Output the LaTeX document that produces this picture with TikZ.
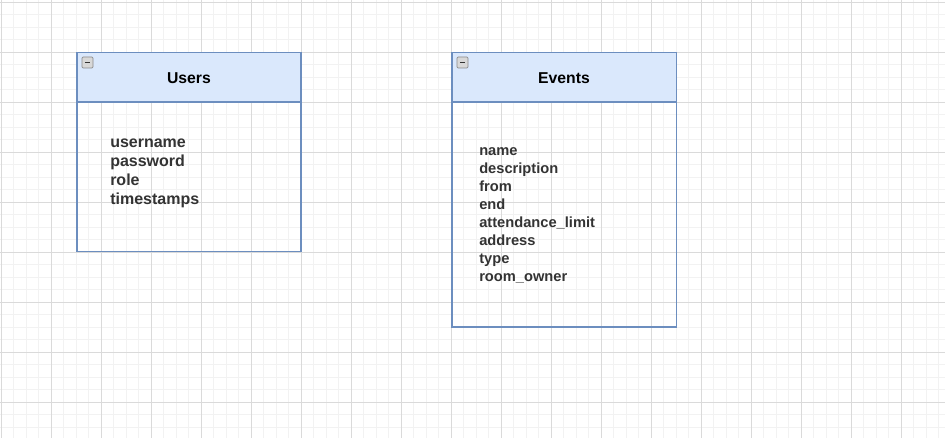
\documentclass[tikz,border=0pt]{standalone}
\usepackage{fontspec}
\setmainfont{Liberation Sans}
\definecolor{hdrfill}{HTML}{DAE8FC}
\definecolor{hdrline}{HTML}{6C8EBF}
\definecolor{gridminor}{HTML}{F2F2F2}
\definecolor{gridmajor}{HTML}{DADADA}
\definecolor{fieldtxt}{HTML}{333333}
\definecolor{iconfill}{HTML}{D8D8D8}
\definecolor{iconline}{HTML}{8A8A8A}
\tikzset{
  hdrbox/.style={draw=hdrline, fill=hdrfill, line width=0.8pt},
  bodybox/.style={draw=hdrline, line width=0.8pt},
  titletxt/.style={font=\fontsize{11.8pt}{14pt}\selectfont\bfseries, text=black, inner sep=0pt, anchor=base},
  ufield/.style={font=\fontsize{12pt}{14pt}\selectfont\bfseries, text=fieldtxt, inner sep=0pt, anchor=base west},
  efield/.style={font=\fontsize{11pt}{13pt}\selectfont\bfseries, text=fieldtxt, inner sep=0pt, anchor=base west},
  iconbox/.style={draw=iconline, fill=iconfill, line width=0.5pt, rounded corners=0.8pt},
  iconbar/.style={draw=black!80, line width=1.3pt}
}
\begin{document}
\begin{tikzpicture}[x=0.75pt, y=-0.75pt]
\useasboundingbox (0,0) rectangle (945,438);
\fill[white] (0,0) rectangle (945,438);
% grid
\foreach \i in {0,...,76} {
  \draw[gridminor, line width=0.6pt] ({1+12.5*\i},0) -- ({1+12.5*\i},438);
}
\foreach \j in {0,...,35} {
  \draw[gridminor, line width=0.6pt] (0,{2+12.5*\j}) -- (945,{2+12.5*\j});
}
\foreach \i in {0,...,18} {
  \draw[gridmajor, line width=0.6pt] ({1+50*\i},0) -- ({1+50*\i},438);
}
\foreach \j in {0,...,8} {
  \draw[gridmajor, line width=0.6pt] (0,{2+50*\j}) -- (945,{2+50*\j});
}
% Users table
\draw[bodybox] (77,102) rectangle (301,251.5);
\draw[hdrbox] (77,52.5) rectangle (301,102);
\draw[iconbox] (82,57) rectangle (93,68);
\draw[iconbar] (84.8,62.5) -- (90.2,62.5);
\node[titletxt] (usersT) at (189,84) {Users};
\node[ufield] (u1) at (110,148) {username};
\node[ufield] (u2) at (110,167) {password};
\node[ufield] (u3) at (110,186) {role};
\node[ufield] (u4) at (110,205) {timestamps};
% Events table
\draw[bodybox] (452,102) rectangle (676.5,327);
\draw[hdrbox] (452,52.5) rectangle (676.5,102);
\draw[iconbox] (457,57) rectangle (468,68);
\draw[iconbar] (459.8,62.5) -- (465.2,62.5);
\node[titletxt] (eventsT) at (564,84) {Events};
\node[efield] (e1) at (479,155.7) {name};
\node[efield] (e2) at (479,173.7) {description};
\node[efield] (e3) at (479,191.7) {from};
\node[efield] (e4) at (479,209.7) {end};
\node[efield] (e5) at (479,227.7) {attendance\_limit};
\node[efield] (e6) at (479,245.7) {address};
\node[efield] (e7) at (479,263.7) {type};
\node[efield] (e8) at (479,281.7) {room\_owner};
\end{tikzpicture}
\end{document}
